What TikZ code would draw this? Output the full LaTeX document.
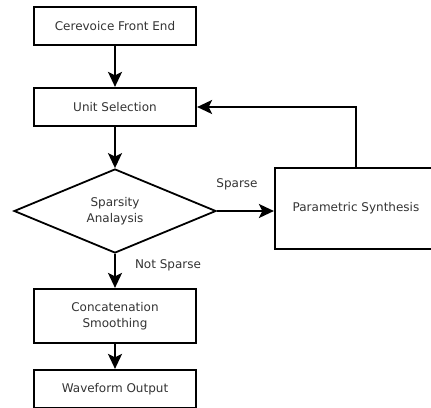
\documentclass[tikz,border=0pt]{standalone}
\usepackage{fontspec}
\setmainfont{DejaVu Sans}
\usetikzlibrary{shapes.geometric,arrows.meta}
\tikzset{
  stepbox/.style={draw,line width=2.2pt,minimum width=162pt,inner sep=0pt,align=center,text=black!80},
  choice/.style={draw,diamond,line width=1.8pt,minimum width=202pt,minimum height=84pt,inner sep=0pt,align=center,text=black!80},
  flow/.style={line width=2.2pt,-{Stealth[length=15pt,width=14pt,inset=3.5pt]}},
  tag/.style={text=black!80}
}
\begin{document}
\begin{tikzpicture}[x=1pt,y=-1pt,font=\fontsize{12}{15.5}\selectfont]
\clip (0,0) rectangle (431,407);
\useasboundingbox (0,0) rectangle (431,407);
\node[stepbox,minimum height=38pt] (front) at (115,26) {Cerevoice Front End};
\node[stepbox,minimum height=38pt] (unit) at (115,107) {Unit Selection};
\node[choice] (sparsity) at (115,211) {Sparsity\\Analaysis};
\node[stepbox,minimum height=81pt] (param) at (356,208.5) {Parametric Synthesis};
\node[stepbox,minimum height=54pt] (concat) at (115,316) {Concatenation\\Smoothing};
\node[stepbox,minimum height=38pt] (wave) at (115,389) {Waveform Output};
\draw[flow] (front) -- (unit);
\draw[flow] (unit) -- (sparsity);
\draw[flow] (sparsity.east) -- (param.west |- sparsity.east);
\draw[flow] (param.north) |- (unit.east);
\draw[flow] (sparsity) -- (concat);
\draw[flow] (concat) -- (wave);
\node[tag] (sparse) at (237,184) {Sparse};
\node[tag] (notsparse) at (168,265) {Not Sparse};
\end{tikzpicture}
\end{document}
